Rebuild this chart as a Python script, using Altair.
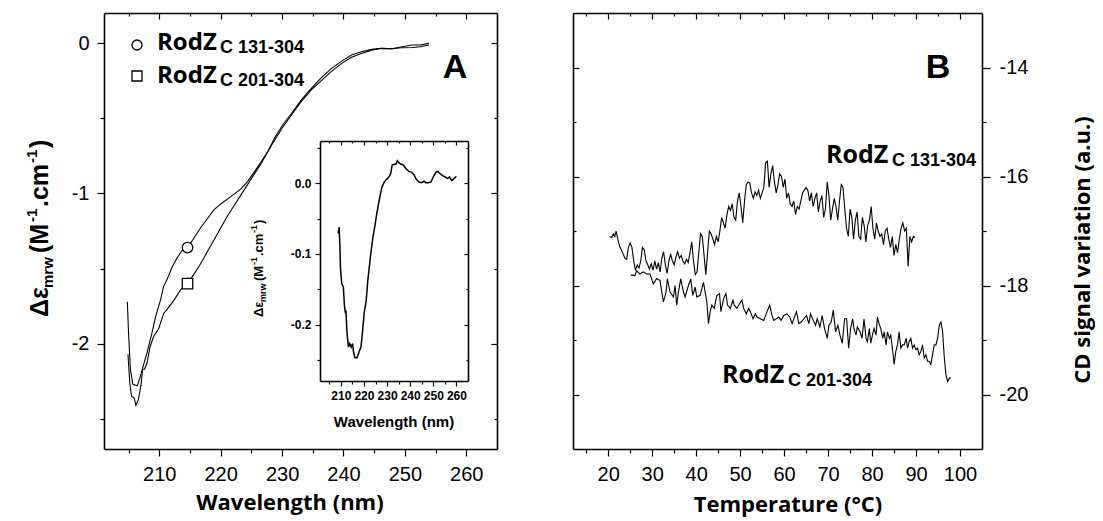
import altair as alt
import pandas as pd

# ---------------- data: panel A main spectra ----------------
series_names = ["RodZ C 131-304", "RodZ C 201-304"]

wl_131 = [204.8, 205.0, 205.3, 205.7, 206.4, 206.9, 207.3, 208.0, 208.8, 209.4,
          210.2, 210.7, 211.3, 212.1, 212.9, 213.7, 214.6, 215.6, 216.7, 217.8,
          218.9, 220.0, 221.7, 223.3, 224.4, 225.5, 226.6, 227.7, 228.8, 230.1,
          231.5, 233.1, 234.8, 236.4, 238.0, 239.7, 241.3, 242.9, 244.6, 246.2,
          247.9, 249.5, 251.2, 252.5, 253.9]
de_131 = [-1.72, -1.93, -2.17, -2.27, -2.28, -2.22, -2.16, -2.06, -1.93, -1.82,
          -1.71, -1.62, -1.57, -1.49, -1.43, -1.38, -1.36, -1.30, -1.23, -1.17,
          -1.11, -1.07, -1.02, -0.97, -0.92, -0.855, -0.79, -0.72, -0.645, -0.56,
          -0.48, -0.39, -0.31, -0.25, -0.19, -0.135, -0.095, -0.069, -0.047, -0.035,
          -0.038, -0.024, -0.013, -0.013, -0.002]

wl_201 = [204.9, 205.2, 205.5, 205.9, 206.2, 206.6, 207.0, 207.3, 207.6, 208.0,
          208.5, 209.1, 209.9, 210.7, 211.3, 212.4, 213.5, 214.6, 215.6, 216.7,
          217.8, 218.9, 220.0, 221.1, 222.2, 223.3, 224.4, 225.5, 226.6, 227.7,
          228.8, 230.1, 231.5, 233.1, 234.8, 236.4, 238.0, 239.7, 241.3, 242.9,
          244.6, 246.2, 247.9, 249.5, 251.2, 252.5, 253.9]
de_201 = [-2.07, -2.26, -2.35, -2.36, -2.41, -2.37, -2.28, -2.17, -2.17, -2.13,
          -2.02, -1.95, -1.90, -1.80, -1.77, -1.71, -1.64, -1.60, -1.54, -1.47,
          -1.39, -1.31, -1.23, -1.15, -1.08, -1.01, -0.94, -0.87, -0.80, -0.72,
          -0.63, -0.545, -0.47, -0.38, -0.30, -0.23, -0.17, -0.12, -0.08, -0.058,
          -0.042, -0.035, -0.038, -0.031, -0.029, -0.024, -0.013]

marker_wl = [214.6, 214.6]
marker_de = [-1.36, -1.60]

# ---------------- data: inset (difference spectrum) ----------------
wl_inset = [208.8, 209.3, 209.6, 209.9, 210.4, 211.1, 211.6, 212.0, 212.2, 212.7,
            213.3, 213.8, 214.5, 215.1, 215.5, 216.1, 217.0, 217.9, 218.7, 219.2,
            220.1, 221.0, 221.7, 222.8, 223.9, 224.8, 225.7, 226.9, 227.8, 228.8,
            229.9, 230.8, 231.6, 232.2, 233.0, 233.8, 234.5, 235.2, 236.1, 237.0,
            238.1, 239.4, 240.6, 241.7, 242.6, 243.7, 244.8, 246.0, 246.7, 247.9,
            249.0, 250.1, 251.2, 252.0, 252.9, 254.0, 255.2, 256.0, 257.0, 258.0,
            259.0, 260.0]
de_inset = [-0.071, -0.062, -0.090, -0.123, -0.142, -0.147, -0.175, -0.184, -0.180, -0.213,
            -0.232, -0.227, -0.232, -0.227, -0.239, -0.247, -0.247, -0.239, -0.232, -0.217,
            -0.184, -0.165, -0.137, -0.104, -0.076, -0.059, -0.040, -0.019, -0.005, 0.002,
            0.006, 0.009, 0.014, 0.026, 0.027, 0.027, 0.032, 0.029, 0.027, 0.026,
            0.021, 0.017, 0.016, 0.012, 0.006, 0.002, 0.001, 0.003, 0.001, 0.001,
            0.002, 0.010, 0.016, 0.017, 0.014, 0.011, 0.009, 0.007, 0.009, 0.004,
            0.007, 0.010]

# ---------------- data: panel B thermal denaturation ----------------
t_131 = [20.3, 20.8, 21.2, 21.5, 21.8, 22.2, 22.6, 23.0, 23.4, 23.8,
         24.2, 24.6, 25.0, 25.4, 25.8, 26.2, 26.6, 27.0, 27.4, 27.8,
         28.2, 28.6, 29.0, 29.4, 29.8, 30.2, 30.6, 31.0, 31.4, 31.8,
         32.2, 32.6, 33.0, 33.4, 33.8, 34.2, 34.6, 35.0, 35.4, 35.8,
         36.2, 36.6, 37.0, 37.4, 37.8, 38.2, 38.6, 39.0, 39.4, 39.8,
         40.2, 40.6, 41.0, 41.4, 41.8, 42.2, 42.6, 43.0, 43.4, 43.8,
         44.2, 44.6, 45.0, 45.4, 45.8, 46.2, 46.6, 47.0, 47.4, 47.8,
         48.2, 48.6, 49.0, 49.4, 49.8, 50.2, 50.6, 51.0, 51.4, 51.8,
         52.2, 52.6, 53.0, 53.4, 53.8, 54.2, 54.6, 55.0, 55.4, 55.8,
         56.2, 56.6, 57.0, 57.4, 57.8, 58.2, 58.6, 59.0, 59.4, 59.8,
         60.2, 60.6, 61.0, 61.4, 61.8, 62.2, 62.6, 63.0, 63.4, 63.8,
         64.2, 64.6, 65.0, 65.4, 65.8, 66.2, 66.6, 67.0, 67.4, 67.8,
         68.2, 68.6, 69.0, 69.4, 69.8, 70.2, 70.6, 71.0, 71.4, 71.8,
         72.2, 72.6, 73.0, 73.4, 73.8, 74.2, 74.6, 75.0, 75.4, 75.8,
         76.2, 76.6, 77.0, 77.4, 77.8, 78.2, 78.6, 79.0, 79.4, 79.8,
         80.2, 80.6, 81.0, 81.4, 81.8, 82.2, 82.6, 83.0, 83.4, 83.8,
         84.2, 84.6, 85.0, 85.4, 85.8, 86.2, 86.6, 87.0, 87.4, 87.8,
         88.2, 88.6, 89.0, 89.4, 89.8]
cd_131 = [-17.10, -17.12, -17.05, -17.10, -17.00, -17.15, -17.28, -17.35, -17.42, -17.50,
          -17.52, -17.30, -17.22, -17.30, -17.55, -17.72, -17.62, -17.68, -17.55, -17.30,
          -17.35, -17.55, -17.62, -17.70, -17.60, -17.72, -17.55, -17.70, -17.58, -17.75,
          -17.50, -17.38, -17.62, -17.78, -17.55, -17.42, -17.55, -17.62, -17.48, -17.38,
          -17.50, -17.45, -17.55, -17.60, -17.52, -17.58, -17.40, -17.20, -17.55, -17.80,
          -17.75, -17.40, -17.05, -17.10, -17.45, -17.80, -17.40, -17.00, -17.05, -17.15,
          -17.25, -17.10, -17.20, -17.00, -16.75, -16.85, -16.95, -16.70, -16.55, -16.62,
          -16.50, -16.75, -16.80, -16.45, -16.30, -16.55, -16.85, -16.45, -16.15, -16.10,
          -16.12, -16.30, -16.40, -16.28, -16.35, -16.25, -16.40, -16.30, -16.20, -15.75,
          -15.72, -16.20, -15.95, -15.80, -16.10, -16.30, -16.15, -15.95, -16.00, -16.20,
          -16.05, -16.40, -16.30, -16.50, -16.55, -16.45, -16.70, -16.55, -16.60, -16.45,
          -16.30, -16.25, -16.20, -16.25, -16.45, -16.30, -16.55, -16.40, -16.30, -16.65,
          -16.45, -16.35, -16.75, -16.60, -16.10, -16.35, -16.80, -16.60, -16.40, -16.55,
          -16.80, -16.45, -16.15, -16.20, -16.60, -16.95, -17.10, -16.60, -16.75, -17.15,
          -16.80, -16.65, -17.10, -17.15, -16.75, -16.90, -17.20, -16.90, -16.80, -16.55,
          -16.95, -17.15, -16.85, -17.00, -17.10, -17.05, -17.25, -17.00, -16.95, -17.15,
          -17.30, -17.10, -17.45, -17.25, -17.40, -17.15, -16.95, -16.85, -17.00, -16.95,
          -17.65, -17.10, -17.20, -17.10, -17.12]

t_201 = [25.10, 25.70, 26.08, 26.46, 27.22, 27.98, 28.75, 29.51, 30.27, 31.03,
         31.79, 32.55, 33.16, 33.46, 34.07, 34.83, 35.21, 35.59, 35.97, 36.50,
         37.11, 37.49, 38.25, 38.78, 39.24, 39.77, 40.15, 40.91, 41.67, 42.05,
         42.43, 42.81, 43.19, 43.57, 44.11, 44.71, 45.32, 45.63, 46.24, 46.77,
         47.15, 47.76, 48.37, 48.67, 49.28, 49.89, 50.42, 50.80, 51.41, 51.94,
         52.32, 52.93, 53.46, 53.84, 54.60, 55.36, 56.12, 56.73, 57.26, 57.64,
         58.25, 58.78, 59.32, 59.92, 60.68, 61.29, 61.83, 62.21, 62.81, 63.35,
         63.88, 64.49, 65.10, 65.63, 66.01, 66.62, 67.15, 67.53, 68.14, 68.67,
         69.20, 69.81, 70.19, 70.72, 71.18, 71.71, 72.24, 72.70, 73.23, 73.76,
         74.22, 74.68, 75.13, 75.59, 75.89, 76.35, 76.65, 77.26, 77.72, 78.17,
         78.63, 78.94, 79.39, 79.70, 80.08, 80.46, 80.91, 81.22, 81.60, 81.98,
         82.43, 82.74, 83.19, 83.50, 83.95, 84.26, 84.71, 85.02, 85.40, 85.78,
         86.16, 86.54, 86.92, 87.30, 87.76, 88.06, 88.44, 88.82, 89.20, 89.58,
         89.96, 90.34, 90.72, 91.10, 91.48, 91.86, 92.24, 92.62, 93.00, 93.38,
         93.76, 94.14, 94.52, 94.90, 95.29, 95.67, 96.05, 96.43, 96.81, 97.19,
         97.57, 97.95]
cd_201 = [-17.81, -17.81, -17.82, -17.73, -17.79, -17.75, -17.79, -17.79, -17.97, -17.87,
          -17.91, -18.30, -18.12, -17.88, -18.12, -18.21, -18.00, -18.36, -18.12, -17.88,
          -18.12, -18.21, -18.00, -17.88, -18.18, -18.03, -18.21, -18.18, -17.94, -18.12,
          -18.30, -18.70, -18.48, -18.36, -18.42, -18.18, -18.15, -18.48, -18.24, -18.15,
          -18.36, -18.42, -18.27, -18.36, -18.42, -18.33, -18.27, -18.42, -18.52, -18.42,
          -18.48, -18.61, -18.52, -18.58, -18.61, -18.64, -18.48, -18.36, -18.55, -18.64,
          -18.61, -18.58, -18.64, -18.55, -18.52, -18.58, -18.70, -18.61, -18.48, -18.70,
          -18.67, -18.61, -18.55, -18.70, -18.52, -18.64, -18.73, -18.61, -18.76, -18.55,
          -18.79, -18.97, -18.73, -18.67, -18.45, -18.85, -18.73, -18.91, -19.06, -18.61,
          -18.61, -19.15, -18.79, -18.61, -18.79, -18.91, -18.76, -18.85, -18.97, -18.61,
          -18.97, -19.03, -18.79, -19.06, -18.91, -18.79, -18.91, -18.58, -18.70, -18.79,
          -18.97, -18.85, -19.09, -18.85, -18.97, -18.91, -19.21, -19.45, -19.21, -19.09,
          -18.85, -19.15, -19.09, -19.09, -18.97, -19.15, -19.03, -18.97, -19.15, -19.09,
          -19.18, -19.15, -19.27, -19.21, -19.09, -19.33, -19.27, -19.39, -19.39, -19.45,
          -19.27, -19.09, -19.09, -18.97, -18.73, -18.67, -18.85, -19.33, -19.64, -19.76,
          -19.70, -19.70]

# tick values
a_x_ticks = [205, 210, 215, 220, 225, 230, 235, 240, 245, 250, 255, 260]
a_y_ticks = [-2.5, -2, -1.5, -1, -0.5, 0]
in_x_ticks = [205, 210, 215, 220, 225, 230, 235, 240, 245, 250, 255, 260]
in_y_ticks = [-0.25, -0.2, -0.15, -0.1, -0.05, 0, 0.05]
b_x_ticks = [15, 20, 25, 30, 35, 40, 45, 50, 55, 60, 65, 70, 75, 80, 85, 90, 95, 100]
b_y_ticks = [-20, -19, -18, -17, -16, -15, -14]

# ---------------- layout (pixels inside the chart) ----------------
W, H = 1087, 513
AX, AY = [96, 489], [441, 5]
BX, BY = [565, 974], [441, 5]
IX, IY = [312, 460], [373, 133]
A_XDOM, A_YDOM = [201, 265], [-2.7, 0.2]
I_XDOM, I_YDOM = [201, 265], [-0.28, 0.06]
B_XDOM, B_YDOM = [12, 105], [-21, -13]

LABEL_FONT = "Liberation Sans"
TITLE_FONT = "Open Sans"


def sc(dom, rng):
    return alt.Scale(domain=dom, range=rng, nice=False, zero=False)


def axis(orient, offset, values, label_expr=None, major_test=None, major=7, minor=4,
         size=20, weight="normal", pad=6):
    kw = dict(orient=orient, offset=offset, values=values, grid=False, title=None,
              domainColor="black", domainWidth=1.6, tickColor="black", tickWidth=1.2,
              labelColor="black", labelFont=LABEL_FONT, labelFontSize=size,
              labelFontWeight=weight, labelPadding=pad, labelOverlap=False,
              labelFlush=False)
    if major_test:
        kw["tickSize"] = {"condition": {"test": major_test, "value": major}, "value": minor}
    else:
        kw["tickSize"] = major
    if label_expr is None:
        kw["labels"] = False
    else:
        kw["labelExpr"] = label_expr
    return alt.Axis(**kw)


one = pd.DataFrame({"k": [0]})


def txt(text, x, y, size, font=LABEL_FONT, weight="bold", angle=0, align="left",
        baseline="alphabetic"):
    return alt.Chart(one).mark_text(
        text=text, fontSize=size, font=font, fontWeight=weight, angle=angle,
        align=align, baseline=baseline, color="black"
    ).encode(x=alt.value(x), y=alt.value(y))


def pt(shape, x, y, size):
    return alt.Chart(one).mark_point(
        shape=shape, filled=True, fill="white", stroke="black", strokeWidth=1.3,
        size=size, opacity=1
    ).encode(x=alt.value(x), y=alt.value(y))


# ---------------- panel A ----------------
dfA = pd.DataFrame({
    "wl": wl_131 + wl_201,
    "de": de_131 + de_201,
    "series": [series_names[0]] * len(wl_131) + [series_names[1]] * len(wl_201),
})
dfM = pd.DataFrame({"wl": marker_wl, "de": marker_de, "series": series_names})

int_label = "datum.value % 1 === 0 ? (datum.value < 0 ? '-' : '') + format(abs(datum.value), 'd') : ''"

a_lines = alt.Chart(dfA).mark_line(color="black", strokeWidth=1.1).encode(
    x=alt.X("wl:Q", scale=sc(A_XDOM, AX),
            axis=axis("bottom", AY[0] - H, a_x_ticks, "datum.value % 10 === 0 ? datum.label : ''",
                      "datum.value % 10 === 0", pad=8)),
    y=alt.Y("de:Q", scale=sc(A_YDOM, AY),
            axis=axis("left", -AX[0], a_y_ticks, int_label, "datum.value % 1 === 0", pad=8)),
    detail="series:N",
)
a_top = alt.Chart(dfA).mark_line(opacity=0).encode(
    x=alt.X("wl:Q", scale=sc(A_XDOM, AX),
            axis=axis("bottom", AY[1] - H, a_x_ticks, None, "datum.value % 10 === 0", 6, 3)),
    y=alt.Y("de:Q", scale=sc(A_YDOM, AY), axis=None),
)
a_right = alt.Chart(dfA).mark_line(opacity=0).encode(
    x=alt.X("wl:Q", scale=sc(A_XDOM, AX), axis=None),
    y=alt.Y("de:Q", scale=sc(A_YDOM, AY),
            axis=axis("left", -AX[1], a_y_ticks, None, "datum.value % 1 === 0", 6, 3)),
)
a_markers = alt.Chart(dfM).mark_point(
    filled=True, fill="white", stroke="black", strokeWidth=1.3, size=110, opacity=1
).encode(
    x=alt.X("wl:Q", scale=sc(A_XDOM, AX), axis=None),
    y=alt.Y("de:Q", scale=sc(A_YDOM, AY), axis=None),
    shape=alt.Shape("series:N", scale=alt.Scale(domain=series_names, range=["circle", "square"]),
                    legend=None),
)

# ---------------- inset ----------------
dfI = pd.DataFrame({"wl": wl_inset, "de": de_inset})
dec_label = ("abs(datum.value*10 - round(datum.value*10)) < 0.001 ? "
             "(datum.value < -0.001 ? '-' : '') + format(abs(datum.value), '.1f') : ''")
dec_test = "abs(datum.value*10 - round(datum.value*10)) < 0.001"

in_line = alt.Chart(dfI).mark_line(color="black", strokeWidth=1.5).encode(
    x=alt.X("wl:Q", scale=sc(I_XDOM, IX),
            axis=axis("bottom", IY[0] - H, in_x_ticks, "datum.value % 10 === 0 ? datum.label : ''",
                      "datum.value % 10 === 0", 5, 3, size=12, weight="bold", pad=4)),
    y=alt.Y("de:Q", scale=sc(I_YDOM, IY),
            axis=axis("left", -IX[0], in_y_ticks, dec_label, dec_test, 5, 3,
                      size=12, weight="bold", pad=4)),
)
in_top = alt.Chart(dfI).mark_line(opacity=0).encode(
    x=alt.X("wl:Q", scale=sc(I_XDOM, IX),
            axis=axis("bottom", IY[1] - H, in_x_ticks, None, "datum.value % 10 === 0", 4, 2)),
    y=alt.Y("de:Q", scale=sc(I_YDOM, IY), axis=None),
)
in_right = alt.Chart(dfI).mark_line(opacity=0).encode(
    x=alt.X("wl:Q", scale=sc(I_XDOM, IX), axis=None),
    y=alt.Y("de:Q", scale=sc(I_YDOM, IY),
            axis=axis("left", -IX[1], in_y_ticks, None, dec_test, 4, 2)),
)

# ---------------- panel B ----------------
dfB = pd.DataFrame({
    "t": t_131 + t_201,
    "cd": cd_131 + cd_201,
    "series": [series_names[0]] * len(t_131) + [series_names[1]] * len(t_201),
})
even_label = "datum.value % 2 === 0 ? '-' + format(abs(datum.value), 'd') : ''"

b_lines = alt.Chart(dfB).mark_line(color="black", strokeWidth=1.1).encode(
    x=alt.X("t:Q", scale=sc(B_XDOM, BX),
            axis=axis("bottom", BY[0] - H, b_x_ticks, "datum.value % 10 === 0 ? datum.label : ''",
                      "datum.value % 10 === 0", pad=8)),
    y=alt.Y("cd:Q", scale=sc(B_YDOM, BY),
            axis=axis("right", BX[1] - W, b_y_ticks, even_label, "datum.value % 2 === 0", 8, 4, pad=9)),
    detail="series:N",
)
b_top = alt.Chart(dfB).mark_line(opacity=0).encode(
    x=alt.X("t:Q", scale=sc(B_XDOM, BX),
            axis=axis("bottom", BY[1] - H, b_x_ticks, None, "datum.value % 10 === 0", 6, 3)),
    y=alt.Y("cd:Q", scale=sc(B_YDOM, BY), axis=None),
)
b_left = alt.Chart(dfB).mark_line(opacity=0).encode(
    x=alt.X("t:Q", scale=sc(B_XDOM, BX), axis=None),
    y=alt.Y("cd:Q", scale=sc(B_YDOM, BY),
            axis=axis("right", BX[0] - W, b_y_ticks, None, "datum.value % 2 === 0", 6, 3)),
)

# ---------------- texts ----------------
texts = [
    # panel letters
    txt("A", 447, 70, 34, align="center"),
    txt("B", 930, 70, 34, align="center"),
    # axis titles
    txt("Wavelength (nm)", 282, 502, 22, font=TITLE_FONT, align="center"),
    txt("Temperature (°C)", 780, 504, 22, font=TITLE_FONT, align="center"),
    txt("CD signal variation (a.u.)", 1082, 242, 22, font=TITLE_FONT, angle=270, align="center"),
    # A y title (rotated, with sub/superscripts)
    txt("Δε", 40, 309, 25, angle=270),
    txt("mrw", 45, 280, 15, angle=270),
    txt("(M", 40, 245, 25, angle=270),
    txt("-1", 29, 214, 15, angle=270),
    txt(".cm", 40, 199, 25, angle=270),
    txt("-1", 29, 155, 15, angle=270),
    txt(")", 40, 140, 25, angle=270),
    # inset titles
    txt("Wavelength (nm)", 386, 419, 15, align="center"),
    txt("Δε", 255, 309, 13, angle=270),
    txt("mrw", 258, 294, 9, angle=270),
    txt("(M", 255, 273, 13, angle=270),
    txt("-1", 249, 257, 9, angle=270),
    txt(".cm", 255, 248, 13, angle=270),
    txt("-1", 249, 225, 9, angle=270),
    txt(")", 255, 216, 13, angle=270),
    # legend in A
    pt("circle", 129, 37, 100),
    pt("square", 129, 68, 100),
    txt("RodZ", 149, 42, 24, font=TITLE_FONT),
    txt("C 131-304", 212, 45, 18),
    txt("RodZ", 149, 75, 24, font=TITLE_FONT),
    txt("C 201-304", 212, 78, 18),
    # labels in B
    txt("RodZ", 818, 155, 25, font=TITLE_FONT),
    txt("C 131-304", 884, 158, 18),
    txt("RodZ", 714, 375, 25, font=TITLE_FONT),
    txt("C 201-304", 780, 378, 18),
]

chart = alt.layer(
    a_lines, a_top, a_right, a_markers,
    in_line, in_top, in_right,
    b_lines, b_top, b_left,
    *texts,
).resolve_scale(
    x="independent", y="independent"
).resolve_axis(
    x="independent", y="independent"
).properties(
    width=W, height=H, padding=0,
    autosize=alt.AutoSizeParams(type="none"),
).configure_view(stroke=None)

chart.save("out.html", embed_options={"renderer": "svg", "actions": False})
